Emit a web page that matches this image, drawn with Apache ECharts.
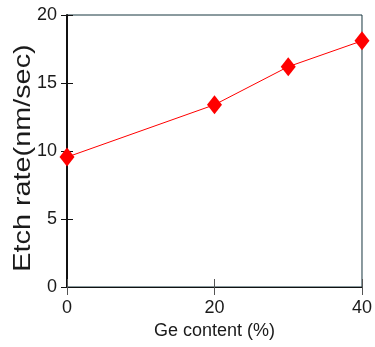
<!DOCTYPE html>
<html>
<head>
<meta charset="utf-8">
<script src="https://cdn.jsdelivr.net/npm/echarts@6/dist/echarts.min.js"></script>
<style>
  html, body { margin: 0; padding: 0; background: #fff; }
  #chart { width: 375px; height: 347px; }
</style>
</head>
<body>
<div id="chart"></div>
<script>
// Etch rate versus Ge content
const geContent = [0, 20, 30, 40];          // Ge content (%)
const etchRate = [9.55, 13.4, 16.2, 18.1];  // Etch rate (nm/sec)
const xTicks = [0, 20, 40];
const yTicks = [0, 5, 10, 15, 20];

const FONT = '"Liberation Sans", Arial, sans-serif';
const INK = '#1a1a1a';

const chart = echarts.init(document.getElementById('chart'), null, { renderer: 'canvas' });

const points = geContent.map((x, i) => [x, etchRate[i]]);

chart.setOption({
  animation: false,
  backgroundColor: '#ffffff',
  grid: {
    left: 67, right: 12, top: 15, bottom: 60,
    show: true, borderColor: '#17363f', borderWidth: 1, backgroundColor: 'transparent'
  },
  xAxis: [{
    type: 'value',
    min: xTicks[0], max: xTicks[xTicks.length - 1], interval: 20,
    name: 'Ge content (%)',
    nameLocation: 'middle',
    nameGap: 34,
    nameTextStyle: { fontFamily: FONT, fontSize: 18, color: INK },
    axisLine: { show: true, onZero: false, lineStyle: { color: '#111', width: 1 } },
    axisTick: { show: true, inside: false, length: 8, lineStyle: { color: '#555' } },
    axisLabel: { fontFamily: FONT, fontSize: 18, color: INK, margin: 12 },
    splitLine: { show: false }
  }, {
    // inner half of the crossing x ticks
    type: 'value', position: 'bottom', gridIndex: 0,
    min: xTicks[0], max: xTicks[xTicks.length - 1], interval: 20,
    axisLine: { show: false },
    axisTick: { show: true, inside: true, length: 8, lineStyle: { color: '#555' } },
    axisLabel: { show: false },
    splitLine: { show: false }
  }],
  yAxis: [{
    type: 'value',
    min: yTicks[0], max: yTicks[yTicks.length - 1], interval: 5,
    axisLine: { show: true, onZero: false, lineStyle: { color: '#111', width: 2 } },
    axisTick: { show: true, inside: false, length: 6, lineStyle: { color: '#111' } },
    axisLabel: { fontFamily: FONT, fontSize: 18, color: INK, margin: 10 },
    splitLine: { show: false }
  }, {
    // inner half of the crossing y ticks
    type: 'value', position: 'left', offset: 0,
    min: yTicks[0], max: yTicks[yTicks.length - 1], interval: 5,
    axisLine: { show: false },
    axisTick: { show: true, inside: true, length: 6, lineStyle: { color: '#111' } },
    axisLabel: { show: false },
    splitLine: { show: false }
  }],
  graphic: [{
    type: 'text',
    x: 23, y: 158,
    rotation: Math.PI / 2,
    scaleX: 1.2,
    style: {
      text: 'Etch rate(nm/sec)',
      font: '24px "Liberation Sans", Arial, sans-serif',
      fill: INK,
      align: 'center',
      verticalAlign: 'middle'
    }
  }],
  series: [{
    type: 'line',
    data: points,
    xAxisIndex: 0, yAxisIndex: 0,
    symbol: 'diamond',
    symbolSize: [15, 19],
    showAllSymbol: true,
    lineStyle: { color: '#ff0000', width: 1 },
    itemStyle: { color: '#ff0000' },
    z: 5
  }]
});
</script>
</body>
</html>
